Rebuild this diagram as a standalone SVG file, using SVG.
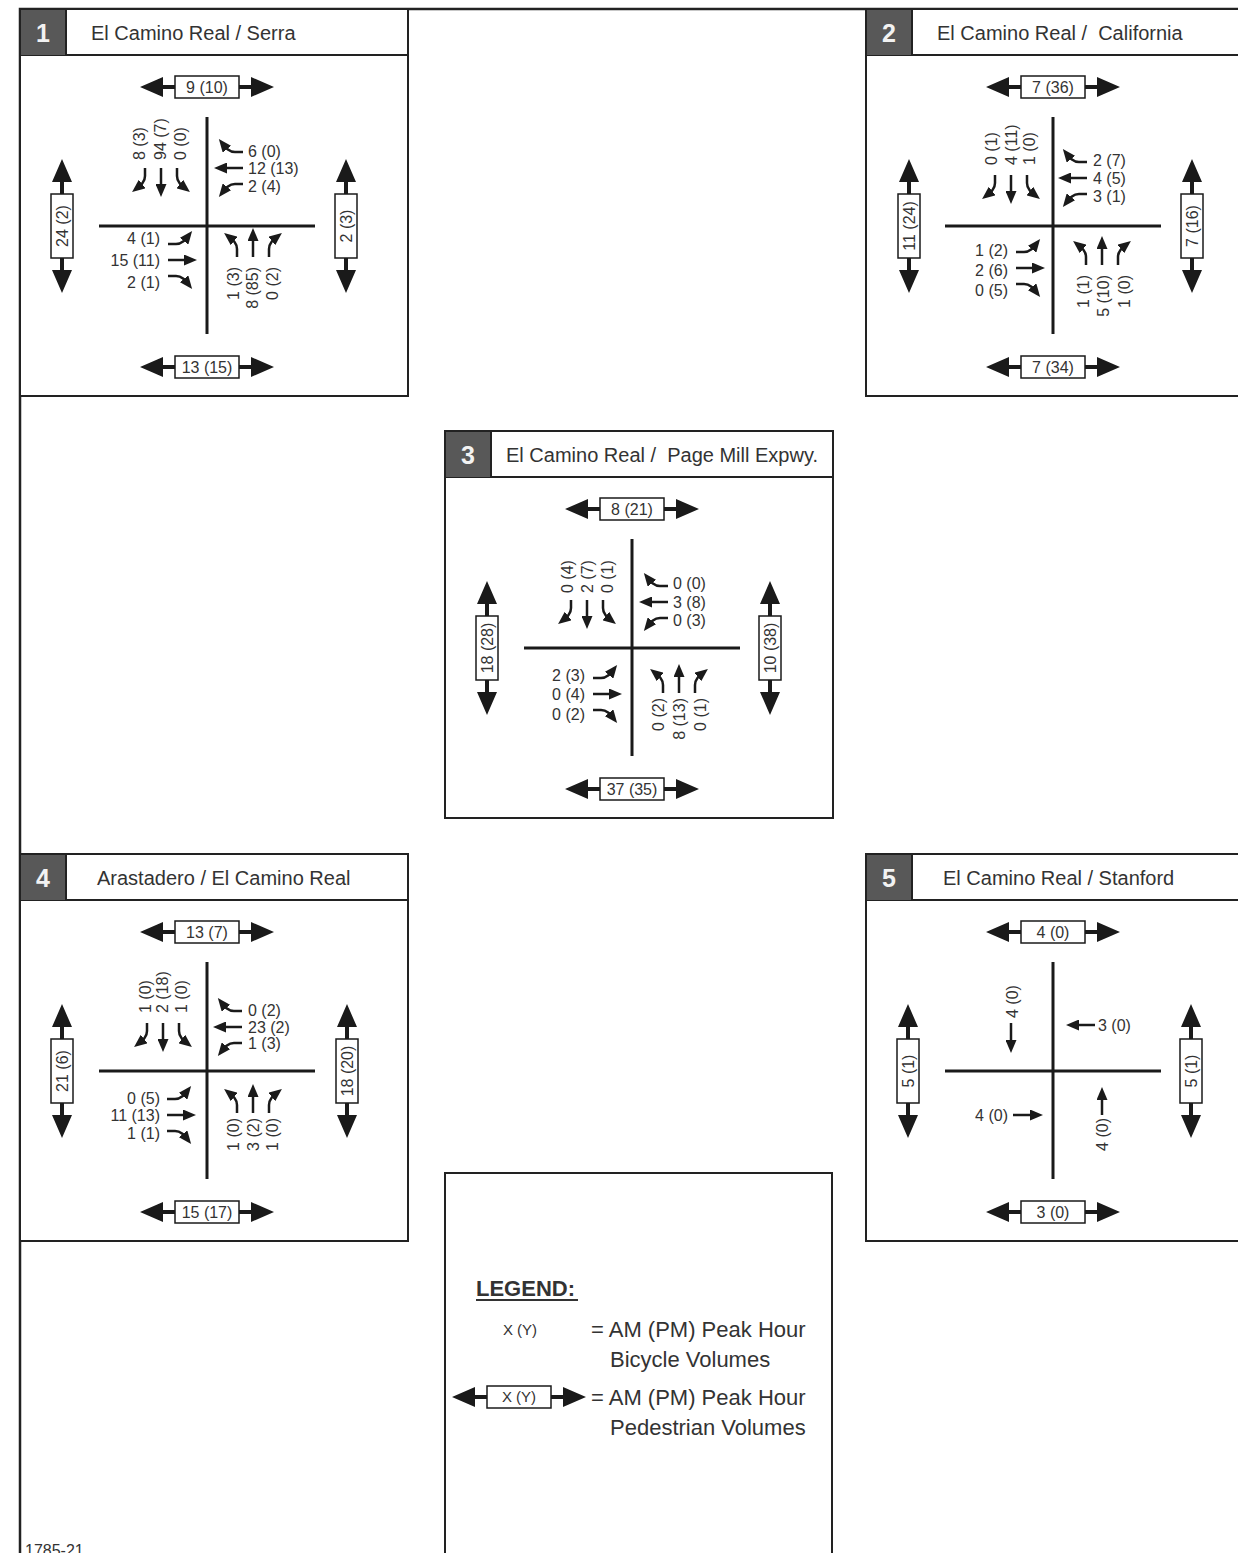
<svg xmlns="http://www.w3.org/2000/svg" xmlns:xlink="http://www.w3.org/1999/xlink" width="1238" height="1553" viewBox="0 0 1238 1553">
<defs>
<style>
.t{font-family:"Liberation Sans",Arial,sans-serif;font-size:16px;fill:#333}
.e{text-anchor:end}
.m{text-anchor:middle}
.h{font-family:"Liberation Sans",Arial,sans-serif;font-size:20px;fill:#333}
.n{font-family:"Liberation Sans",Arial,sans-serif;font-size:25px;font-weight:bold;fill:#f2f2f2;text-anchor:middle}
.lg{font-family:"Liberation Sans",Arial,sans-serif;font-size:22px;fill:#333}
.box{fill:#fff;stroke:#222;stroke-width:2}
.road{stroke:#1a1a1a;stroke-width:3;fill:none}
.mv{fill:none;stroke:#1a1a1a;stroke-width:2.5;marker-end:url(#ah)}
</style>
<marker id="ah" markerUnits="userSpaceOnUse" viewBox="0 0 13 11" refX="8" refY="5.5" markerWidth="13" markerHeight="11" orient="auto"><path d="M0,0 L13,5.5 L0,11 z" fill="#1a1a1a"/></marker>
<g id="trio">
<path class="mv" d="M0,0 V24"/>
<path class="mv" d="M-16,0 V8 C-16,14 -20,17 -25,21"/>
<path class="mv" d="M16,0 V8 C16,14 20,17 25,21"/>
</g>
<g id="ped">
<path d="M-67,0 L-44,-10 L-44,10 Z M67,0 L44,-10 L44,10 Z" fill="#1a1a1a"/>
<path d="M-45,0 H-32 M32,0 H45" stroke="#1a1a1a" stroke-width="4"/>
<rect x="-32" y="-11" width="64" height="22" fill="#fff" stroke="#1a1a1a" stroke-width="1.5"/>
</g>
<g id="frame">
<rect class="box" x="0" y="0" width="388" height="387"/>
<path d="M0,46 H388" stroke="#222" stroke-width="2"/>
<rect x="1" y="1" width="45" height="45" fill="#585858"/>
<path d="M46,0 V46" stroke="#222" stroke-width="2"/>
<path class="road" d="M187,108 V325 M79,217 H295"/>
<use xlink:href="#ped" transform="translate(187,78)"/>
<use xlink:href="#ped" transform="translate(187,358)"/>
</g>
</defs>
<rect x="0" y="0" width="1238" height="1553" fill="#fff"/>
<path d="M1240,9 H20 V1556" fill="none" stroke="#222" stroke-width="2.5"/>

<g id="panel1" transform="translate(20,9)">
<use xlink:href="#frame"/>
<text class="n" x="23" y="33">1</text>
<text class="h" x="71" y="31">El Camino Real / Serra</text>
<use xlink:href="#ped" transform="translate(42,217) rotate(90)"/>
<use xlink:href="#ped" transform="translate(326,217) rotate(90)"/>
<text class="t m" x="187" y="83.7">9 (10)</text>
<text class="t m" x="187" y="363.7">13 (15)</text>
<text class="t m" transform="translate(42,217) rotate(-90)" x="0" y="5.7">24 (2)</text>
<text class="t m" transform="translate(326,217) rotate(-90)" x="0" y="5.7">2 (3)</text>
<use xlink:href="#trio" transform="translate(141,159)"/>
<text class="t" transform="translate(125,151) rotate(-90)">8 (3)</text>
<text class="t" transform="translate(146,151) rotate(-90)">94 (7)</text>
<text class="t" transform="translate(166,151) rotate(-90)">0 (0)</text>
<use xlink:href="#trio" transform="translate(223,159) rotate(90)"/>
<text class="t" x="228" y="147.7">6 (0)</text>
<text class="t" x="228" y="164.7">12 (13)</text>
<text class="t" x="228" y="182.7">2 (4)</text>
<use xlink:href="#trio" transform="translate(148,251) rotate(-90)"/>
<text class="t e" x="140" y="234.7">4 (1)</text>
<text class="t e" x="140" y="256.7">15 (11)</text>
<text class="t e" x="140" y="278.7">2 (1)</text>
<use xlink:href="#trio" transform="translate(233,248) rotate(180)"/>
<text class="t e" transform="translate(218.7,258) rotate(-90)">1 (3)</text>
<text class="t e" transform="translate(237.7,258) rotate(-90)">8 (85)</text>
<text class="t e" transform="translate(257.7,258) rotate(-90)">0 (2)</text>
</g>

<g id="panel2" transform="translate(866,9)">
<use xlink:href="#frame"/>
<text class="n" x="23" y="33">2</text>
<text class="h" x="71" y="31" xml:space="preserve">El Camino Real /  California</text>
<use xlink:href="#ped" transform="translate(43,217) rotate(90)"/>
<use xlink:href="#ped" transform="translate(326,217) rotate(90)"/>
<text class="t m" x="187" y="83.7">7 (36)</text>
<text class="t m" x="187" y="363.7">7 (34)</text>
<text class="t m" transform="translate(43,217) rotate(-90)" x="0" y="5.7">11 (24)</text>
<text class="t m" transform="translate(326,217) rotate(-90)" x="0" y="5.7">7 (16)</text>
<use xlink:href="#trio" transform="translate(145,166)"/>
<text class="t" transform="translate(130.7,156) rotate(-90)">0 (1)</text>
<text class="t" transform="translate(150.7,156) rotate(-90)">4 (11)</text>
<text class="t" transform="translate(168.7,156) rotate(-90)">1 (0)</text>
<use xlink:href="#trio" transform="translate(221,169) rotate(90)"/>
<text class="t" x="227" y="156.7">2 (7)</text>
<text class="t" x="227" y="174.7">4 (5)</text>
<text class="t" x="227" y="192.7">3 (1)</text>
<use xlink:href="#trio" transform="translate(150,259) rotate(-90)"/>
<text class="t e" x="142" y="246.7">1 (2)</text>
<text class="t e" x="142" y="266.7">2 (6)</text>
<text class="t e" x="142" y="286.7">0 (5)</text>
<use xlink:href="#trio" transform="translate(236,256) rotate(180)"/>
<text class="t e" transform="translate(222.7,266) rotate(-90)">1 (1)</text>
<text class="t e" transform="translate(242.7,266) rotate(-90)">5 (10)</text>
<text class="t e" transform="translate(263.7,266) rotate(-90)">1 (0)</text>
</g>

<g id="panel3" transform="translate(445,431)">
<use xlink:href="#frame"/>
<text class="n" x="23" y="33">3</text>
<text class="h" x="61" y="31" xml:space="preserve">El Camino Real /  Page Mill Expwy.</text>
<use xlink:href="#ped" transform="translate(42,217) rotate(90)"/>
<use xlink:href="#ped" transform="translate(325,217) rotate(90)"/>
<text class="t m" x="187" y="83.7">8 (21)</text>
<text class="t m" x="187" y="363.7">37 (35)</text>
<text class="t m" transform="translate(42,217) rotate(-90)" x="0" y="5.7">18 (28)</text>
<text class="t m" transform="translate(325,217) rotate(-90)" x="0" y="5.7">10 (38)</text>
<use xlink:href="#trio" transform="translate(142,169)"/>
<text class="t" transform="translate(127.7,162) rotate(-90)">0 (4)</text>
<text class="t" transform="translate(148.2,162) rotate(-90)">2 (7)</text>
<text class="t" transform="translate(168.2,162) rotate(-90)">0 (1)</text>
<use xlink:href="#trio" transform="translate(223,171) rotate(90)"/>
<text class="t" x="228" y="157.7">0 (0)</text>
<text class="t" x="228" y="176.7">3 (8)</text>
<text class="t" x="228" y="194.7">0 (3)</text>
<use xlink:href="#trio" transform="translate(148,263) rotate(-90)"/>
<text class="t e" x="140" y="249.7">2 (3)</text>
<text class="t e" x="140" y="268.7">0 (4)</text>
<text class="t e" x="140" y="288.7">0 (2)</text>
<use xlink:href="#trio" transform="translate(234,262) rotate(180)"/>
<text class="t e" transform="translate(218.7,267) rotate(-90)">0 (2)</text>
<text class="t e" transform="translate(239.7,267) rotate(-90)">8 (13)</text>
<text class="t e" transform="translate(260.7,267) rotate(-90)">0 (1)</text>
</g>

<g id="panel4" transform="translate(20,854)">
<use xlink:href="#frame"/>
<text class="n" x="23" y="33">4</text>
<text class="h" x="77" y="31">Arastadero / El Camino Real</text>
<use xlink:href="#ped" transform="translate(42,217) rotate(90)"/>
<use xlink:href="#ped" transform="translate(327,217) rotate(90)"/>
<text class="t m" x="187" y="83.7">13 (7)</text>
<text class="t m" x="187" y="363.7">15 (17)</text>
<text class="t m" transform="translate(42,217) rotate(-90)" x="0" y="5.7">21 (6)</text>
<text class="t m" transform="translate(327,217) rotate(-90)" x="0" y="5.7">18 (20)</text>
<use xlink:href="#trio" transform="translate(143,169)"/>
<text class="t" transform="translate(130.7,159) rotate(-90)">1 (0)</text>
<text class="t" transform="translate(148.2,159) rotate(-90)">2 (18)</text>
<text class="t" transform="translate(167.2,159) rotate(-90)">1 (0)</text>
<use xlink:href="#trio" transform="translate(222,173) rotate(90)"/>
<text class="t" x="228" y="161.7">0 (2)</text>
<text class="t" x="228" y="178.7">23 (2)</text>
<text class="t" x="228" y="194.7">1 (3)</text>
<use xlink:href="#trio" transform="translate(147,261) rotate(-90)"/>
<text class="t e" x="140" y="249.7">0 (5)</text>
<text class="t e" x="140" y="266.7">11 (13)</text>
<text class="t e" x="140" y="284.7">1 (1)</text>
<use xlink:href="#trio" transform="translate(233,259) rotate(180)"/>
<text class="t e" transform="translate(218.7,264) rotate(-90)">1 (0)</text>
<text class="t e" transform="translate(238.7,264) rotate(-90)">3 (2)</text>
<text class="t e" transform="translate(257.7,264) rotate(-90)">1 (0)</text>
</g>

<g id="panel5" transform="translate(866,854)">
<use xlink:href="#frame"/>
<text class="n" x="23" y="33">5</text>
<text class="h" x="77" y="31">El Camino Real / Stanford</text>
<use xlink:href="#ped" transform="translate(42,217) rotate(90)"/>
<use xlink:href="#ped" transform="translate(325,217) rotate(90)"/>
<text class="t m" x="187" y="83.7">4 (0)</text>
<text class="t m" x="187" y="363.7">3 (0)</text>
<text class="t m" transform="translate(42,217) rotate(-90)" x="0" y="5.7">5 (1)</text>
<text class="t m" transform="translate(325,217) rotate(-90)" x="0" y="5.7">5 (1)</text>
<text class="t" transform="translate(152,164) rotate(-90)">4 (0)</text>
<path class="mv" d="M145,169 V194"/>
<text class="t" x="232" y="176.7">3 (0)</text>
<path class="mv" d="M229,171 H205"/>
<text class="t e" x="142" y="266.7">4 (0)</text>
<path class="mv" d="M147,261 H172"/>
<text class="t e" transform="translate(241.7,264) rotate(-90)">4 (0)</text>
<path class="mv" d="M236,261 V238"/>
</g>

<g id="legend">
<rect class="box" x="445" y="1173" width="387" height="400"/>
<text class="lg" x="476" y="1296" style="font-weight:bold">LEGEND:</text>
<path d="M476,1300 H578" stroke="#333" stroke-width="2"/>
<text class="t m" x="520" y="1334.7" style="font-size:15px">X (Y)</text>
<text class="lg" x="591" y="1337">= AM (PM) Peak Hour</text>
<text class="lg" x="610" y="1367">Bicycle Volumes</text>
<use xlink:href="#ped" transform="translate(519,1397)"/>
<text class="t m" x="519" y="1402.4" style="font-size:15px">X (Y)</text>
<text class="lg" x="591" y="1405">= AM (PM) Peak Hour</text>
<text class="lg" x="610" y="1435">Pedestrian Volumes</text>
</g>
<text class="t" x="25" y="1556">1785-21</text>
</svg>
